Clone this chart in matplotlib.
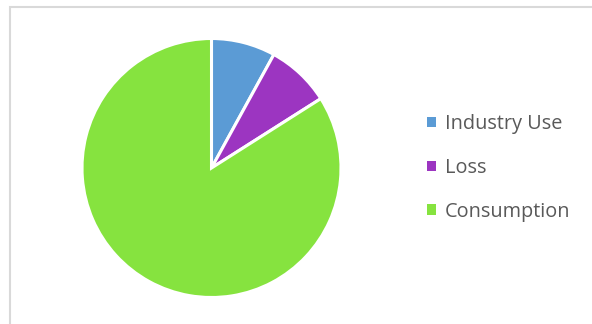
import matplotlib.pyplot as plt
from matplotlib.patches import Rectangle

# water use split
labels = ["Industry Use", "Loss", "Consumption"]
values = [8, 8, 84]
colors = ["#5B9BD5", "#9C35C1", "#86E33F"]

W, H = 592, 324
fig = plt.figure(figsize=(W / 100, H / 100), dpi=100)

# chart frame (only top and left edges show)
fig.patches.append(Rectangle((9.5 / W, -0.1), 1.2, (H - 7.5) / H + 0.1,
                             transform=fig.transFigure, fill=False,
                             edgecolor="#D9D9D9", linewidth=1.5))

cx, cy, r = 211.5, 168, 129.5
ax = fig.add_axes([(cx - r) / W, (H - cy - r) / H, 2 * r / W, 2 * r / H])
wedges, _ = ax.pie(values, colors=colors, startangle=90, counterclock=False,
                   wedgeprops=dict(edgecolor="white", linewidth=2.2))
ax.set_xlim(-1, 1)
ax.set_ylim(-1, 1)
ax.set_aspect("equal")
ax.axis("off")

leg = fig.legend(wedges, labels, loc="center left",
                 bbox_to_anchor=(409 / W, (H - 168) / H), frameon=False,
                 handlelength=0.46, handleheight=0.46, handletextpad=0.46,
                 labelspacing=1.2, prop={"family": "Open Sans", "size": 14.3})
for t in leg.get_texts():
    t.set_color("#595959")
for h in leg.legend_handles:
    h.set_edgecolor("none")

fig.savefig("out.png", dpi=100)
